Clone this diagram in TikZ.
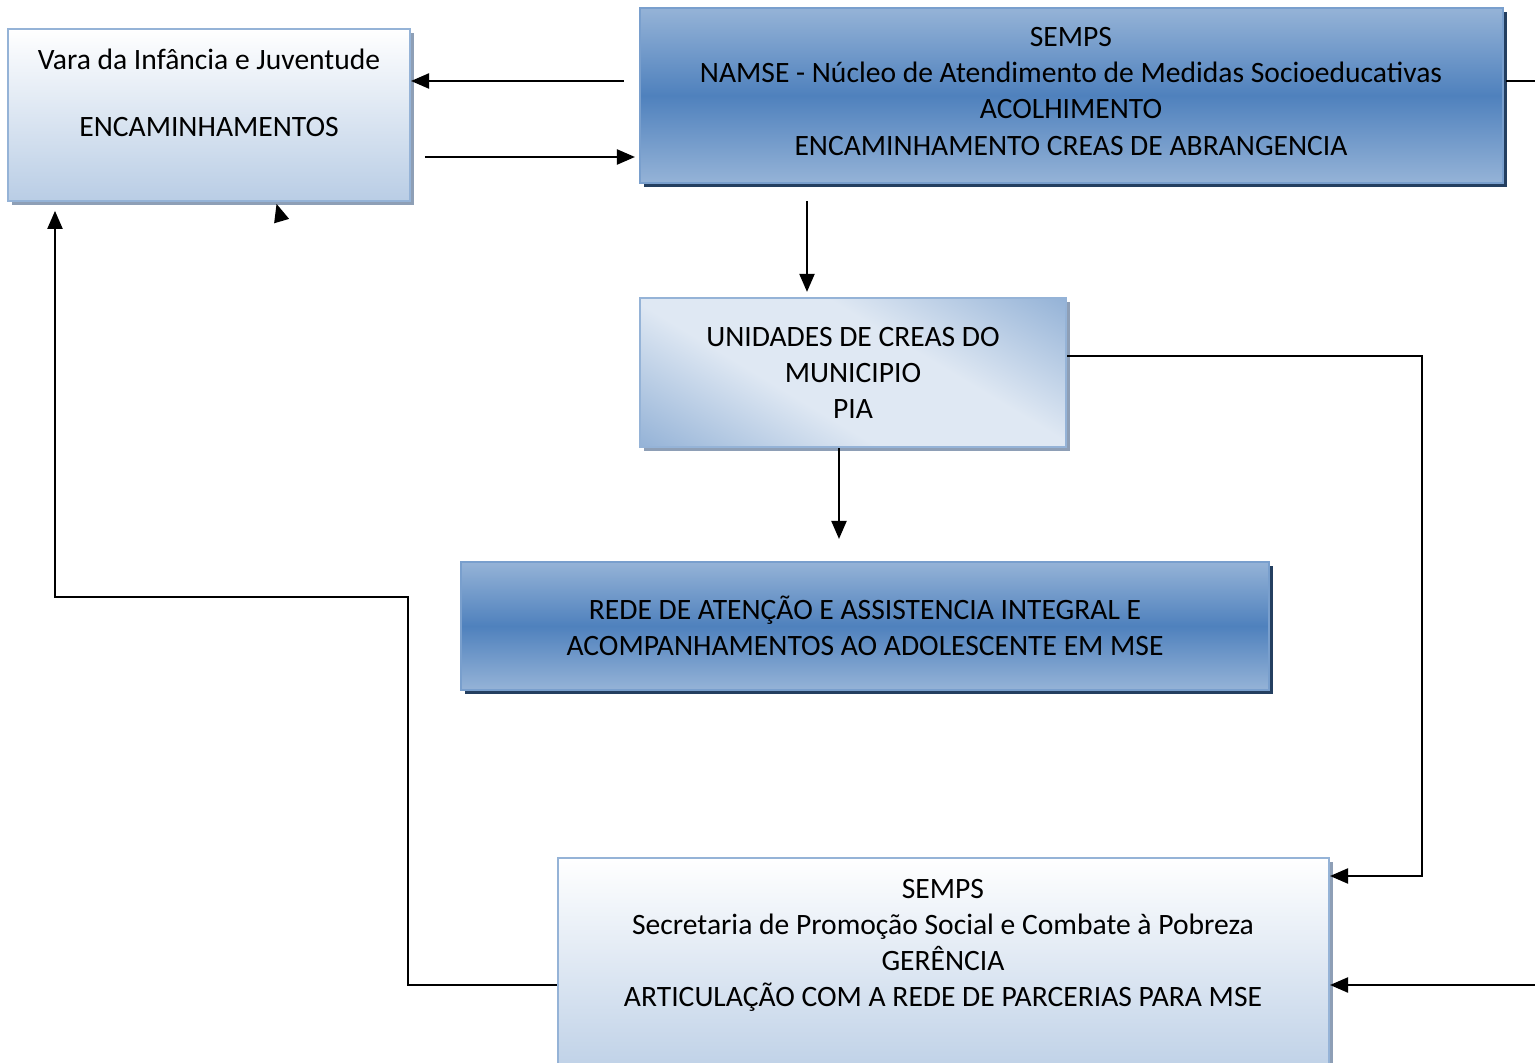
\documentclass[tikz,border=0pt]{standalone}
\usepackage{fontspec}
\setmainfont{Carlito}
\usetikzlibrary{arrows.meta, positioning, shadows, calc}

\definecolor{bordaclara}{HTML}{95B3D7}
\definecolor{azulmedio}{HTML}{4F81BD}
\definecolor{azulclaro}{HTML}{B9CDE5}
\definecolor{sombraescura}{HTML}{243F60}
\definecolor{sombracinza}{HTML}{8E9FB6}
\definecolor{creasclaro}{HTML}{DFE8F3}

\pgfdeclareverticalshading{creasfaixa}{100bp}{color(0bp)=(bordaclara); color(16bp)=(bordaclara);
  color(40bp)=(creasclaro); color(60bp)=(creasclaro); color(84bp)=(bordaclara); color(100bp)=(bordaclara)}

\begin{document}
\begin{tikzpicture}[
  x=0.372pt, y=-0.372pt,
  font=\fontsize{11pt}{13.4pt}\selectfont,
  caixa/.style={rectangle, line width=0.75pt, inner sep=0pt, align=center},
  clara/.style={caixa, draw=bordaclara, top color=white, bottom color=azulclaro,
                drop shadow={shadow xshift=1.5pt, shadow yshift=-1.5pt, fill=sombracinza, opacity=1}},
  escura/.style={caixa, draw=bordaclara!60!azulmedio, top color=bordaclara, bottom color=bordaclara,
                 middle color=azulmedio,
                 drop shadow={shadow xshift=1.5pt, shadow yshift=-1.5pt, fill=sombraescura, opacity=1}},
  mista/.style={caixa, draw=bordaclara, shading=creasfaixa, shading angle=-31,
                drop shadow={shadow xshift=1.5pt, shadow yshift=-1.5pt, fill=sombracinza, opacity=1}},
  texto/.style={align=center, inner sep=0pt},
  seta/.style={-{Triangle[length=6.7pt, width=5.6pt]}, line width=0.75pt},
]
\useasboundingbox (0,0) rectangle (1535,1063);
\clip (0,0) rectangle (1535,1063);

%% ---- caixas ----
\node[clara, minimum width=402*0.372pt, minimum height=172*0.372pt] (vara) at (209,115) {};
\node[texto] (vara-txt) at (209,93) {Vara da Infância e Juventude\\[11.5pt]ENCAMINHAMENTOS};

\node[escura, minimum width=863*0.372pt, minimum height=175*0.372pt] (namse) at (1071.5,95.5) {};
\node[texto] (namse-txt) at (1071,91.5)
  {SEMPS\\NAMSE - Núcleo de Atendimento de Medidas Socioeducativas\\ACOLHIMENTO\\ENCAMINHAMENTO CREAS DE ABRANGENCIA};

\node[mista, minimum width=426*0.372pt, minimum height=149*0.372pt] (creas) at (853,372.5)
  {UNIDADES DE CREAS DO\\MUNICIPIO\\PIA};

\node[escura, minimum width=808*0.372pt, minimum height=128*0.372pt] (rede) at (865,626)
  {REDE DE ATENÇÃO E ASSISTENCIA INTEGRAL E\\ACOMPANHAMENTOS AO ADOLESCENTE EM MSE};

\node[clara, minimum width=771*0.372pt, minimum height=232*0.372pt] (gerencia) at (943.5,974) {};
\node[texto] (gerencia-txt) at (943,945)
  {SEMPS\\Secretaria de Promoção Social e Combate à Pobreza\\GERÊNCIA\\ARTICULAÇÃO COM A REDE DE PARCERIAS PARA MSE};

%% ---- setas ----
\draw[seta, shorten <=5.6pt] (namse.west |- 0,81) -- (vara.east |- 0,81);
\draw[seta, shorten <=5.2pt, shorten >=1.5pt] (vara.east |- 0,157) -- (namse.west |- 0,157);
\draw[seta, shorten <=6.3pt, shorten >=1.9pt] (namse.south -| 807,0) -- (creas.north -| 807,0);
\draw[seta, shorten >=8.2pt] (creas.south -| 839,0) -- (rede.north -| 839,0);

%% retorno pela direita
\draw[seta] (creas.east |- 0,356) -| (1422,876) -- (gerencia.east |- 0,876);
\draw[seta, shorten <=0.8pt] (namse.east |- 0,81) -- (1565,81) -- (1565,985) -- (gerencia.east |- 0,985);

%% retorno pela esquerda
\draw[seta, shorten >=3.3pt] (gerencia.west |- 0,985) -| (408,597) -| (vara.south -| 55,0);
\coordinate (toco) at (281,219);
\draw[seta, shorten >=0.7pt] (toco) -- (vara.south -| 276,0);
\end{tikzpicture}
\end{document}
